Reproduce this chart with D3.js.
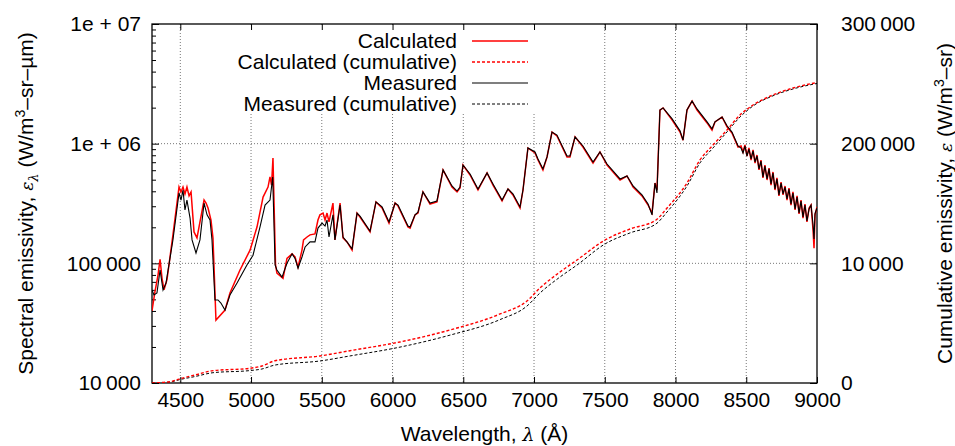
<!DOCTYPE html>
<html>
<head>
<meta charset="utf-8">
<script src="https://cdn.jsdelivr.net/npm/d3@7"></script>
<style>
  body { margin: 0; background: #fff; }
  text { font-family: "Liberation Sans", Arial, Helvetica, sans-serif; fill: #000; }
</style>
</head>
<body>
<div id="chart"></div>
<script>
const width = 955;
const height = 446;
const margin = { top: 24, right: 138, bottom: 63, left: 152 };

// wavelength (Å), spectral emissivity (W/m^3-sr-um)
const calculated = [
  [4300, 4.0e4], [4321, 5.8e4], [4342, 7.9e4], [4357, 1.08e5], [4371, 7.5e4], [4385, 6.0e4],
  [4406, 7.3e4], [4448, 1.73e5], [4491, 4.34e5], [4505, 3.95e5], [4519, 4.34e5], [4533, 3.8e5],
  [4547, 4.34e5], [4562, 3.66e5], [4576, 3.95e5], [4597, 1.83e5], [4618, 1.63e5], [4668, 3.38e5],
  [4682, 3.19e5], [4696, 2.9e5], [4717, 2.3e5], [4731, 1.63e5], [4752, 3.36e4], [4816, 4.07e4],
  [4851, 5.65e4], [4922, 8.8e4], [4993, 1.29e5], [5042, 2.01e5], [5085, 3.58e5], [5120, 4.34e5],
  [5134, 5.27e5], [5145, 4.51e5], [5155, 7.59e5], [5173, 9.7e4], [5183, 8.3e4], [5226, 7.5e4],
  [5254, 1.10e5], [5290, 1.20e5], [5311, 1.13e5], [5332, 9.3e4], [5360, 1.29e5], [5371, 1.57e5],
  [5396, 1.66e5], [5417, 1.73e5], [5452, 1.76e5], [5473, 2.30e5], [5487, 2.54e5], [5509, 2.63e5],
  [5523, 2.30e5], [5537, 2.63e5], [5551, 2.22e5], [5579, 3.19e5], [5593, 1.57e5], [5629, 3.19e5],
  [5650, 1.63e5], [5678, 1.51e5], [5714, 1.29e5], [5749, 2.63e5], [5770, 2.44e5], [5841, 1.83e5],
  [5883, 3.26e5], [5926, 2.90e5], [5975, 2.17e5], [6018, 3.19e5], [6039, 3.01e5], [6109, 2.01e5],
  [6124, 1.97e5], [6159, 2.54e5], [6180, 2.63e5], [6215, 3.95e5], [6265, 3.13e5], [6314, 3.26e5],
  [6357, 6.03e5], [6420, 4.34e5], [6456, 3.95e5], [6477, 4.26e5], [6498, 6.63e5], [6548, 5.47e5],
  [6604, 4.10e5], [6668, 5.69e5], [6710, 4.51e5], [6774, 3.32e5], [6816, 4.18e5], [6851, 3.73e5],
  [6901, 2.90e5], [6922, 4.10e5], [6957, 9.2e5], [7007, 8.36e5], [7028, 7.30e5], [7063, 6.03e5],
  [7092, 7.74e5], [7127, 1.25e6], [7162, 1.16e6], [7233, 7.74e5], [7254, 7.74e5], [7290, 1.14e6],
  [7346, 9.38e5], [7417, 6.89e5], [7466, 8.52e5], [7516, 6.63e5], [7608, 4.97e5], [7657, 5.37e5],
  [7700, 4.34e5], [7763, 3.66e5], [7806, 3.07e5], [7834, 2.63e5], [7855, 4.69e5], [7869, 4.10e5],
  [7890, 1.91e6], [7912, 1.99e6], [7975, 1.58e6], [8032, 1.25e6], [8053, 1.07e6], [8081, 1.91e6],
  [8117, 2.27e6], [8152, 1.91e6], [8223, 1.49e6], [8258, 1.30e6], [8279, 1.52e6], [8329, 1.67e6],
  [8364, 1.38e6], [8399, 1.23e6], [8442, 9.38e5], [8463, 9.56e5], [8477, 8.52e5], [8491, 9.75e5],
  [8505, 7.89e5], [8519, 9.2e5], [8534, 7.30e5], [8548, 8.86e5], [8562, 6.89e5], [8576, 8.04e5],
  [8590, 6.03e5], [8604, 7.30e5], [8618, 5.17e5], [8632, 6.63e5], [8647, 4.97e5], [8661, 6.26e5],
  [8675, 4.51e5], [8689, 5.80e5], [8703, 4.10e5], [8717, 5.17e5], [8731, 3.66e5], [8746, 4.78e5],
  [8760, 3.73e5], [8774, 4.43e5], [8788, 3.38e5], [8802, 4.26e5], [8816, 3.07e5], [8830, 3.95e5],
  [8845, 2.79e5], [8859, 3.66e5], [8873, 2.59e5], [8887, 3.38e5], [8901, 2.39e5], [8915, 3.13e5],
  [8929, 2.22e5], [8944, 2.90e5], [8958, 3.07e5], [8972, 1.90e5], [8979, 1.34e5], [8986, 2.54e5],
  [9000, 2.96e5]
];

const measured = [
  [4300, 5.99e4], [4314, 5.44e4], [4335, 5.65e4], [4357, 8.8e4], [4378, 5.99e4], [4399, 6.85e4],
  [4448, 1.57e5], [4491, 3.87e5], [4505, 3.38e5], [4519, 4.10e5], [4533, 2.79e5], [4547, 3.38e5],
  [4569, 2.39e5], [4583, 1.57e5], [4611, 1.22e5], [4639, 1.57e5], [4668, 3.19e5], [4689, 2.54e5],
  [4710, 2.30e5], [4724, 1.57e5], [4745, 4.94e4], [4766, 4.94e4], [4787, 4.66e4], [4816, 4.07e4],
  [4851, 5.44e4], [4901, 6.85e4], [4971, 9.7e4], [5014, 1.17e5], [5063, 2.01e5], [5099, 3.07e5],
  [5134, 3.38e5], [5153, 5.27e5], [5170, 9.7e4], [5183, 8.8e4], [5219, 7.66e4], [5254, 1.0e5],
  [5290, 1.20e5], [5311, 1.10e5], [5332, 9.1e4], [5360, 1.13e5], [5382, 1.37e5], [5417, 1.51e5],
  [5452, 1.51e5], [5473, 1.97e5], [5502, 2.17e5], [5523, 2.05e5], [5537, 2.30e5], [5551, 1.66e5],
  [5579, 2.54e5], [5593, 1.57e5], [5629, 3.07e5], [5650, 1.66e5], [5678, 1.51e5], [5714, 1.32e5],
  [5749, 2.63e5], [5770, 2.48e5], [5841, 1.86e5], [5883, 3.26e5], [5926, 2.96e5], [5975, 2.22e5],
  [6018, 3.19e5], [6039, 3.07e5], [6109, 2.05e5], [6124, 2.01e5], [6159, 2.54e5], [6180, 2.68e5],
  [6215, 3.95e5], [6265, 3.19e5], [6314, 3.32e5], [6357, 6.03e5], [6420, 4.43e5], [6456, 4.02e5],
  [6477, 4.34e5], [6498, 6.63e5], [6548, 5.58e5], [6604, 4.18e5], [6668, 5.69e5], [6710, 4.60e5],
  [6774, 3.38e5], [6816, 4.18e5], [6851, 3.80e5], [6901, 2.96e5], [6922, 4.10e5], [6957, 9.2e5],
  [7007, 8.52e5], [7028, 7.45e5], [7063, 6.15e5], [7092, 7.74e5], [7127, 1.25e6], [7162, 1.18e6],
  [7233, 7.89e5], [7254, 7.89e5], [7290, 1.14e6], [7346, 9.56e5], [7417, 7.03e5], [7466, 8.52e5],
  [7516, 6.76e5], [7608, 5.07e5], [7657, 5.37e5], [7700, 4.43e5], [7763, 3.73e5], [7806, 3.13e5],
  [7834, 2.54e5], [7855, 4.69e5], [7869, 3.87e5], [7890, 1.91e6], [7912, 1.99e6], [7975, 1.62e6],
  [8032, 1.28e6], [8053, 1.07e6], [8081, 1.91e6], [8117, 2.27e6], [8152, 1.95e6], [8223, 1.52e6],
  [8258, 1.33e6], [8279, 1.52e6], [8329, 1.67e6], [8364, 1.41e6], [8399, 1.25e6], [8442, 9.56e5],
  [8463, 9.2e5], [8477, 8.36e5], [8491, 9.56e5], [8505, 7.89e5], [8519, 9.02e5], [8534, 7.45e5],
  [8548, 8.69e5], [8562, 7.03e5], [8576, 7.89e5], [8590, 6.15e5], [8604, 7.16e5], [8618, 5.27e5],
  [8632, 6.5e5], [8647, 5.07e5], [8661, 6.15e5], [8675, 4.6e5], [8689, 5.69e5], [8703, 4.18e5],
  [8717, 5.07e5], [8731, 3.73e5], [8746, 4.69e5], [8760, 3.8e5], [8774, 4.34e5], [8788, 3.45e5],
  [8802, 4.18e5], [8816, 3.13e5], [8830, 3.87e5], [8845, 2.85e5], [8859, 3.58e5], [8873, 2.64e5],
  [8887, 3.32e5], [8901, 2.44e5], [8915, 3.07e5], [8929, 2.26e5], [8944, 2.85e5], [8958, 3.07e5],
  [8972, 2.1e5], [8979, 1.6e5], [8986, 2.6e5], [9000, 2.9e5]
];

// wavelength (Å), cumulative emissivity (W/m^3-sr)
const calculatedCum = [
  [4300, 0], [4427, 1090], [4498, 3590], [4604, 6690], [4731, 10300], [4993, 12300],
  [5077, 14200], [5169, 18600], [5487, 22600], [5699, 27000], [6053, 34300], [6406, 44300],
  [6760, 57700], [6950, 68500], [7042, 79400], [7184, 92800], [7304, 102800], [7502, 119500],
  [7678, 128700], [7862, 136200], [7940, 146200], [8081, 167100], [8173, 186400], [8265, 198900],
  [8364, 211400], [8456, 224000], [8548, 232300], [8689, 240700], [8830, 246500], [9000, 251100]
];

const measuredCum = [
  [4300, 0], [4427, 800], [4498, 2900], [4604, 5400], [4731, 8600], [4993, 10400],
  [5077, 11700], [5169, 15000], [5487, 18400], [5699, 22600], [6053, 30000], [6406, 40000],
  [6760, 53000], [6950, 64300], [7042, 75200], [7184, 88600], [7304, 98600], [7502, 116200],
  [7678, 125400], [7862, 132900], [7940, 142900], [8081, 164600], [8173, 183900], [8265, 196400],
  [8364, 209800], [8456, 222300], [8548, 231500], [8689, 240000], [8830, 245700], [9000, 250300]
];

const xTicks = [4500, 5000, 5500, 6000, 6500, 7000, 7500, 8000, 8500, 9000];
const leftTicks = [1e4, 1e5, 1e6, 1e7];
const leftTickLabels = ["10\u2009000", "100\u2009000", "1e + 06", "1e + 07"];
const rightTicks = [0, 100000, 200000, 300000];
const rightTickLabels = ["0", "10\u2009000", "200\u2009000", "300\u2009000"];
const legendLabels = ["Calculated", "Calculated (cumulative)", "Measured", "Measured (cumulative)"];

const iw = width - margin.left - margin.right;
const ih = height - margin.top - margin.bottom;

const svg = d3.select("#chart")
    .append("svg")
    .attr("width", width)
    .attr("height", height);

const g = svg.append("g").attr("transform", `translate(${margin.left},${margin.top})`);

const x = d3.scaleLinear().domain([4300, 9000]).range([0, iw]);
const yL = d3.scaleLog().domain([1e4, 1e7]).range([ih, 0]);
const yR = d3.scaleLinear().domain([0, 300000]).range([ih, 0]);

// grid
const gridStyle = sel => sel.attr("stroke", "#777").attr("stroke-width", 1).attr("stroke-dasharray", "1,2");
g.append("g").selectAll("line")
    .data(xTicks.slice(0, -1))
    .join("line")
    .attr("x1", d => x(d)).attr("x2", d => x(d))
    .attr("y1", 0).attr("y2", ih)
    .call(gridStyle);
g.append("g").selectAll("line")
    .data([1e5, 1e6])
    .join("line")
    .attr("x1", 0).attr("x2", iw)
    .attr("y1", d => yL(d)).attr("y2", d => yL(d))
    .call(gridStyle);

// legend background hides the grid behind it
g.append("rect")
    .attr("x", 62).attr("y", 1)
    .attr("width", 325).attr("height", 88)
    .attr("fill", "#fff");

// axes with inward ticks
const fontSize = 21;
g.append("g")
    .attr("transform", `translate(0,${ih})`)
    .call(d3.axisBottom(x).tickValues(xTicks).tickSize(-6).tickPadding(9).tickFormat(d3.format("d")));
g.append("g")
    .call(d3.axisTop(x).tickValues(xTicks).tickSize(-6).tickFormat(""));

const minorLog = [];
[1e4, 1e5, 1e6].forEach(dec => { for (let k = 2; k <= 9; k++) minorLog.push(dec * k); });

g.append("g")
    .call(d3.axisLeft(yL).tickValues(leftTicks).tickSize(-7).tickPadding(11)
        .tickFormat((d, i) => leftTickLabels[i]));
g.append("g")
    .call(d3.axisLeft(yL).tickValues(minorLog).tickSize(-4).tickFormat(""));

g.append("g")
    .attr("transform", `translate(${iw},0)`)
    .call(d3.axisRight(yR).tickValues(rightTicks).tickSize(-7).tickPadding(24)
        .tickFormat((d, i) => rightTickLabels[i]));

g.selectAll(".domain").attr("stroke", "none");
g.selectAll(".tick line").attr("stroke", "#000");
g.selectAll(".tick text")
    .style("font-size", fontSize + "px")
    .style("font-family", '"Liberation Sans", Arial, Helvetica, sans-serif');

// frame
g.append("rect")
    .attr("width", iw).attr("height", ih)
    .attr("fill", "none").attr("stroke", "#000").attr("stroke-width", 1.3);

// data lines
g.append("clipPath").attr("id", "clip")
    .append("rect").attr("width", iw).attr("height", ih);
const plot = g.append("g").attr("clip-path", "url(#clip)");

const lineL = d3.line().x(d => x(d[0])).y(d => yL(d[1]));
const lineR = d3.line().x(d => x(d[0])).y(d => yR(d[1])).curve(d3.curveMonotoneX);

plot.append("path").datum(measuredCum)
    .attr("d", lineR).attr("fill", "none")
    .attr("stroke", "#000").attr("stroke-width", 1).attr("stroke-dasharray", "3,2");
plot.append("path").datum(calculatedCum)
    .attr("d", lineR).attr("fill", "none")
    .attr("stroke", "#f00").attr("stroke-width", 1.4).attr("stroke-dasharray", "3,2");
plot.append("path").datum(calculated)
    .attr("d", lineL).attr("fill", "none")
    .attr("stroke", "#f00").attr("stroke-width", 1.5);
plot.append("path").datum(measured)
    .attr("d", lineL).attr("fill", "none")
    .attr("stroke", "#000").attr("stroke-width", 1.1);

// legend
const legendStyles = [
    { color: "#f00", dash: null, w: 1.4 },
    { color: "#f00", dash: "3,2", w: 1.4 },
    { color: "#000", dash: null, w: 1.1 },
    { color: "#000", dash: "3,2", w: 1 }
];
const legend = g.append("g");
legendLabels.forEach((lab, i) => {
    const yy = 17 + i * 21;
    legend.append("text")
        .attr("x", 305).attr("y", yy)
        .attr("dy", "0.35em")
        .attr("text-anchor", "end")
        .style("font-size", fontSize + "px")
        .text(lab);
    legend.append("line")
        .attr("x1", 320).attr("x2", 376)
        .attr("y1", yy).attr("y2", yy)
        .attr("stroke", legendStyles[i].color)
        .attr("stroke-width", legendStyles[i].w)
        .attr("stroke-dasharray", legendStyles[i].dash);
});

// axis titles
svg.append("text")
    .attr("x", margin.left + iw / 2).attr("y", 441)
    .attr("text-anchor", "middle")
    .style("font-size", fontSize + "px")
    .html('Wavelength, <tspan font-family="DejaVu Serif" font-style="italic" font-size="19">λ</tspan> (Å)');

svg.append("text")
    .attr("transform", `translate(33,${margin.top + ih / 2}) rotate(-90)`)
    .attr("text-anchor", "middle")
    .style("font-size", fontSize + "px")
    .html('Spectral emissivity, <tspan font-family="DejaVu Serif" font-style="italic" font-size="17">ε</tspan><tspan font-family="DejaVu Serif" font-style="italic" font-size="13" dy="5">λ</tspan><tspan dy="-5"> (W/m</tspan><tspan font-size="14" dy="-8">3</tspan><tspan dy="8">–sr–µm)</tspan>');

svg.append("text")
    .attr("transform", `translate(952,${margin.top + ih / 2}) rotate(-90)`)
    .attr("text-anchor", "middle")
    .style("font-size", fontSize + "px")
    .html('Cumulative emissivity, <tspan font-family="DejaVu Serif" font-style="italic" font-size="17">ε</tspan> (W/m<tspan font-size="14" dy="-8">3</tspan><tspan dy="8">–sr)</tspan>');
</script>
</body>
</html>
